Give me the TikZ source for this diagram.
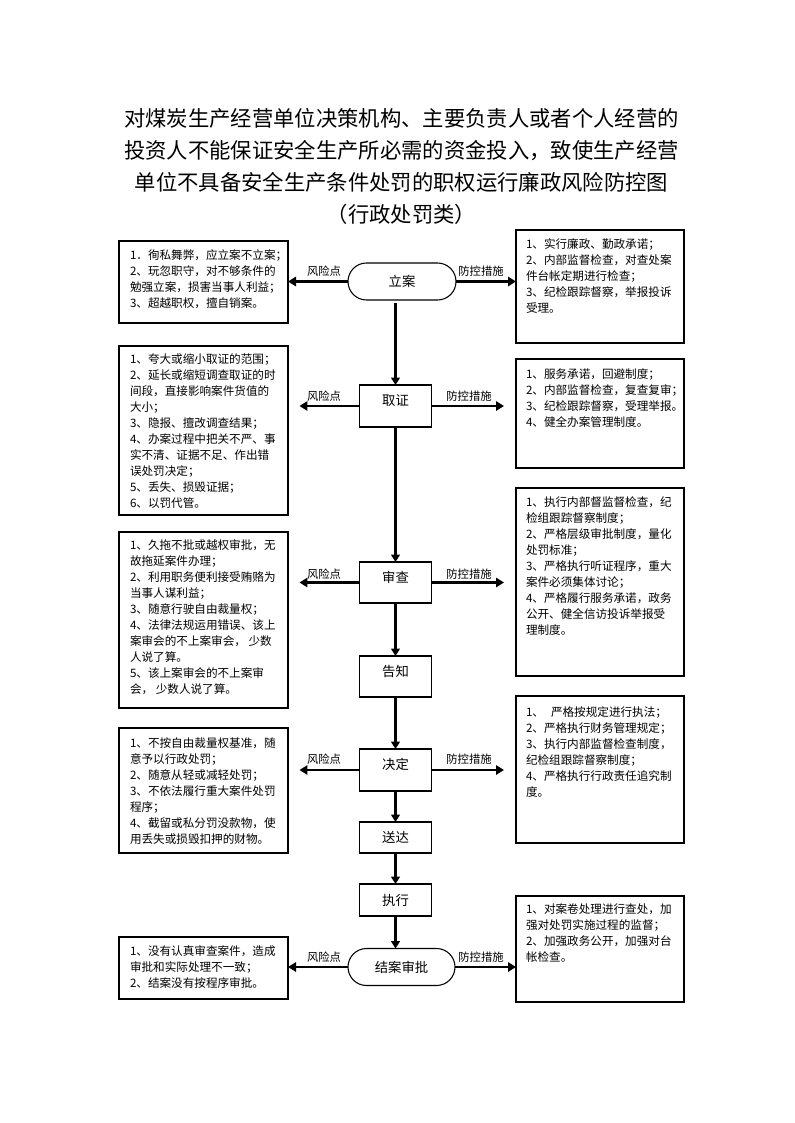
\documentclass[tikz,border=0pt]{standalone}
\usepackage{fontspec}
\setmainfont{Noto Sans CJK SC}
\usetikzlibrary{arrows.meta,shapes.misc}
\begin{document}
\begin{tikzpicture}[x=0.75pt,y=-0.75pt,
  box/.style={draw,line width=0.8pt,inner sep=0pt,outer sep=0pt,anchor=north west},
  lbox/.style={box,minimum width=126.75pt},
  rbox/.style={box,minimum width=126pt},
  btxt/.style={inner sep=0pt,outer sep=0pt,anchor=north west,align=left,font=\fontsize{8.7}{12}\selectfont},
  proc/.style={draw,line width=0.8pt,inner sep=0pt,outer sep=0pt,minimum width=54pt,font=\fontsize{10}{12}\selectfont},
  proctall/.style={proc,text height=8pt,text depth=8.6pt},
  term/.style={draw,line width=0.8pt,rounded rectangle,inner sep=0pt,outer sep=0pt,minimum width=81pt,minimum height=27.75pt,font=\fontsize{10}{12}\selectfont},
  lab/.style={inner sep=0pt,font=\fontsize{8.5}{10}\selectfont},
  harrow/.style={line width=2.2pt,-{Triangle[length=6pt,width=7pt]}},
  varrow/.style={line width=1.6pt,-{Triangle[length=5.5pt,width=6.5pt]}},
  ttl/.style={inner sep=0pt,anchor=north,align=center,font=\fontsize{16}{24}\selectfont}
]
\useasboundingbox[fill=white] (0,0) rectangle (794,1123);

% title
\node[ttl] (title) at (401.5,108) {对煤炭生产经营单位决策机构、主要负责人或者个人经营的\\投资人不能保证安全生产所必需的资金投入，致使生产经营\\单位不具备安全生产条件处罚的职权运行廉政风险防控图\\（行政处罚类）};

% center flow
\node[term] (la) at (402,281.5) {立案};
\node[proctall,minimum height=31.5pt] (qz) at (395.5,406) {取证};
\node[proctall,minimum height=30.75pt] (sc) at (395.5,582.5) {审查};
\node[proctall,minimum height=30.75pt] (gz) at (395.5,676.5) {告知};
\node[proctall,minimum height=31.5pt] (jd) at (395.5,770) {决定};
\node[proc,minimum height=23.25pt] (sd) at (395.5,837.5) {送达};
\node[proc,minimum height=24pt] (zx) at (395.5,900) {执行};
\node[term,minimum width=80.25pt] (ja) at (401.5,967) {结案审批};

% left boxes
\node[lbox,minimum height=61.5pt] (L1) at (119,241) {};
\node[lbox,minimum height=126.75pt] (L2) at (119,346) {};
\node[lbox,minimum height=132pt] (L3) at (119,532) {};
\node[lbox,minimum height=93.75pt] (L4) at (119,728) {};
\node[lbox,minimum height=46.5pt] (L5) at (119,937) {};
% right boxes
\node[rbox,minimum height=84.75pt] (R1) at (516,230) {};
\node[rbox,minimum height=81.75pt] (R2) at (516,359) {};
\node[rbox,minimum height=141pt] (R3) at (516,488) {};
\node[rbox,minimum height=110.25pt] (R4) at (516,696) {};
\node[rbox,minimum height=79.5pt] (R5) at (516,896) {};

% box texts
\node[btxt] (L1t) at (130,249.8) {1．徇私舞弊，应立案不立案；\\2、玩忽职守，对不够条件的\\勉强立案，损害当事人利益；\\3、超越职权，擅自销案。};
\node[btxt] (L2t) at (130,353.8) {1、夸大或缩小取证的范围；\\2、延长或缩短调查取证的时\\间段，直接影响案件货值的\\大小；\\3、隐报、擅改调查结果；\\4、办案过程中把关不严、事\\实不清、证据不足、作出错\\误处罚决定；\\5、丢失、损毁证据；\\6、以罚代管。};
\node[btxt] (L3t) at (130,539.8) {1、久拖不批或越权审批，无\\故拖延案件办理；\\2、利用职务便利接受贿赂为\\当事人谋利益；\\3、随意行驶自由裁量权；\\4、法律法规运用错误、该上\\案审会的不上案审会， 少数\\人说了算。\\5、该上案审会的不上案审\\会， 少数人说了算。};
\node[btxt] (L4t) at (130,738.1) {1、不按自由裁量权基准，随\\意予以行政处罚；\\2、随意从轻或减轻处罚；\\3、不依法履行重大案件处罚\\程序；\\4、截留或私分罚没款物，使\\用丢失或损毁扣押的财物。};
\node[btxt] (L5t) at (130,945.8) {1、没有认真审查案件，造成\\审批和实际处理不一致；\\2、结案没有按程序审批。};
\node[btxt] (R1t) at (526,239.1) {1、实行廉政、勤政承诺；\\2、内部监督检查，对查处案\\件台帐定期进行检查；\\3、纪检跟踪督察，举报投诉\\受理。};
\node[btxt] (R2t) at (526,368.8) {1、服务承诺，回避制度；\\2、内部监督检查，复查复审；\\3、纪检跟踪督察，受理举报。\\4、健全办案管理制度。};
\node[btxt] (R3t) at (526,496.5) {1、执行内部督监督检查，纪\\检组跟踪督察制度；\\2、严格层级审批制度，量化\\处罚标准；\\3、严格执行听证程序，重大\\案件必须集体讨论；\\4、严格履行服务承诺，政务\\公开、健全信访投诉举报受\\理制度。};
\node[btxt] (R4t) at (526,706.5) {1、\hspace{0.6em}严格按规定进行执法；\\2、严格执行财务管理规定；\\3、执行内部监督检查制度，\\纪检组跟踪督察制度；\\4、严格执行行政责任追究制\\度。};
\node[btxt] (R5t) at (526,903.8) {1、对案卷处理进行查处，加\\强对处罚实施过程的监督；\\2、加强政务公开，加强对台\\帐检查。};

% vertical flow
\draw[varrow,shorten <=2.2pt] (la.south -| qz.north) -- (qz.north);
\draw[varrow] (qz.south) -- (sc.north);
\draw[varrow] (sc.south) -- (gz.north);
\draw[varrow] (gz.south) -- (jd.north);
\draw[varrow] (jd.south) -- (sd.north);
\draw[varrow] (sd.south) -- (zx.north);
\draw[varrow] (zx.south) -- (zx.south |- ja.north);

% horizontal arrows
\draw[harrow] (la.west) -- (la.west -| L1.east);
\draw[harrow] (la.east) -- (la.east -| R1.west);
\draw[harrow,shorten >=8.6pt] (qz.west) -- (qz.west -| L2.east);
\draw[harrow,shorten >=9pt] (qz.east) -- (qz.east -| R2.west);
\draw[harrow,shorten >=8.6pt] (sc.west) -- (sc.west -| L3.east);
\draw[harrow,shorten >=9pt] (sc.east) -- (sc.east -| R3.west);
\draw[harrow,shorten >=8.6pt] (jd.west) -- (jd.west -| L4.east);
\draw[harrow,shorten >=9pt] (jd.east) -- (jd.east -| R4.west);
\draw[harrow] (ja.west) -- (ja.west -| L5.east);
\draw[harrow] (ja.east) -- (ja.east -| R5.west);

% labels
\node[lab] (f1) at (324,271) {风险点};
\node[lab] (p1) at (481,271) {防控措施};
\node[lab] (f2) at (324,396) {风险点};
\node[lab] (p2) at (469,396) {防控措施};
\node[lab] (f3) at (324,574) {风险点};
\node[lab] (p3) at (469,574) {防控措施};
\node[lab] (f4) at (324,759) {风险点};
\node[lab] (p4) at (469,759) {防控措施};
\node[lab] (f5) at (324,957) {风险点};
\node[lab] (p5) at (481,957) {防控措施};
\end{tikzpicture}
\end{document}
